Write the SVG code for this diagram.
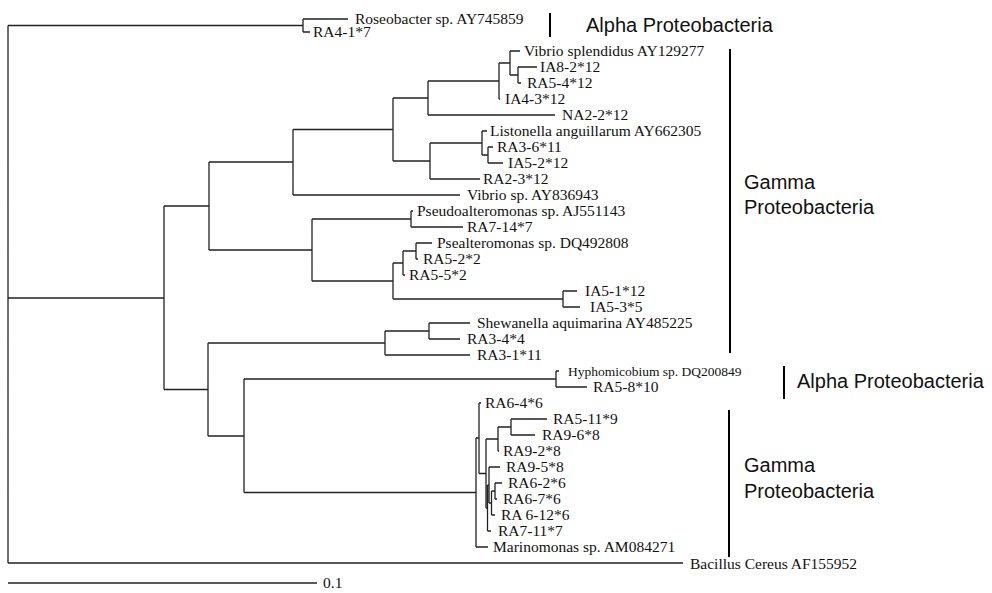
<svg xmlns="http://www.w3.org/2000/svg" width="992" height="593" viewBox="0 0 992 593">
<style>
.br{fill:none;stroke:#222;stroke-width:1.3}
.bar{stroke:#000;stroke-width:2}
.lf{font-family:"Liberation Serif","Times New Roman",serif;font-size:15.5px;fill:#111}
.sm{font-size:13.5px}
.cl{font-family:"Liberation Sans",Arial,sans-serif;font-size:20px;fill:#111}
</style>
<rect width="992" height="593" fill="#fff"/>
<g id="connectors">
<path class="br" d="M8 25.5V563M8 25.5H303M8 298H164M8 563H683
M303 19V32M303 19H348M303 32H310
M164 206V389.5M164 206H209M164 389.5H208
M209 162V250M209 162H293M209 250H312
M293 129.5V195M293 129.5H393M293 195H460
M393 98V161M393 98H428M393 161H430
M428 81V115M428 81H499M428 115H555
M499 63V99M499 63H510M499 99H500
M510 51V75M510 51H520M510 75H518
M518 67V83M518 67H537M518 83H521
M430 143V179M430 143H482M430 179H480
M482 131V155M482 131H487M482 155H488
M488 147V163M488 147H493M488 163H503
M312 219V281M312 219H411M312 281H393
M411 211V227M411 211H413M411 227H463
M393 263V299M393 263H403M393 299H563
M403 251V275M403 251H416M403 275H405
M416 243V259M416 243H432M416 259H418
M563 291V307M563 291H577M563 307H580
M208 343V436M208 343H385M208 436H244
M385 331V355M385 331H429M385 355H470
M429 323V339M429 323H470M429 339H460
M244 379V492.5M244 379H556M244 492.5H476
M556 371V387M556 371H559M556 387H587
M476 438V547M476 438H479M476 547H488
M479 403V473.5M479 403H481M479 473.5H486
M486 439V508M486 439H498M486 508H487.5
M498 427V451M498 427H511M498 451H499
M511 419V435M511 419H547M511 435H535
M487.5 485V531M487.5 485H489M487.5 531H491
M489 467V503M489 467H500M489 503H491.5
M491.5 491V515M491.5 491H495M491.5 515H495
M495 483V499M495 483H502M495 499H497"/>
<path class="br" d="M8 583H317"/>
</g>
<g id="leaves" class="lf">
<g id="n-roseobacter"><text x="355" y="24">Roseobacter sp. AY745859</text></g>
<g id="n-ra4-1"><text x="313" y="37">RA4-1*7</text></g>
<g id="n-vsplendidus"><text x="524" y="56">Vibrio splendidus AY129277</text></g>
<g id="n-ia8-2"><text x="540" y="72">IA8-2*12</text></g>
<g id="n-ra5-4"><text x="527" y="88">RA5-4*12</text></g>
<g id="n-ia4-3"><text x="505" y="104">IA4-3*12</text></g>
<g id="n-na2-2"><text x="562" y="120">NA2-2*12</text></g>
<g id="n-listonella"><text x="490" y="136">Listonella anguillarum AY662305</text></g>
<g id="n-ra3-6"><text x="497" y="152">RA3-6*11</text></g>
<g id="n-ia5-2"><text x="508" y="168">IA5-2*12</text></g>
<g id="n-ra2-3"><text x="483" y="184">RA2-3*12</text></g>
<g id="n-vibriosp"><text x="467" y="200">Vibrio sp. AY836943</text></g>
<g id="n-pseudoalt"><text x="417" y="216">Pseudoalteromonas sp. AJ551143</text></g>
<g id="n-ra7-14"><text x="467" y="232">RA7-14*7</text></g>
<g id="n-psealt"><text x="437" y="248">Psealteromonas sp. DQ492808</text></g>
<g id="n-ra5-2"><text x="423" y="264">RA5-2*2</text></g>
<g id="n-ra5-5"><text x="409" y="280">RA5-5*2</text></g>
<g id="n-ia5-1"><text x="585" y="296">IA5-1*12</text></g>
<g id="n-ia5-3"><text x="590" y="312">IA5-3*5</text></g>
<g id="n-shewanella"><text x="477" y="328">Shewanella aquimarina AY485225</text></g>
<g id="n-ra3-4"><text x="467" y="344">RA3-4*4</text></g>
<g id="n-ra3-1"><text x="477" y="360">RA3-1*11</text></g>
<g id="n-hyphomicobium"><text class="sm" x="568" y="376">Hyphomicobium sp. DQ200849</text></g>
<g id="n-ra5-8"><text x="593" y="392">RA5-8*10</text></g>
<g id="n-ra6-4"><text x="485" y="408">RA6-4*6</text></g>
<g id="n-ra5-11"><text x="553" y="424">RA5-11*9</text></g>
<g id="n-ra9-6"><text x="542" y="440">RA9-6*8</text></g>
<g id="n-ra9-2"><text x="503" y="456">RA9-2*8</text></g>
<g id="n-ra9-5"><text x="506" y="472">RA9-5*8</text></g>
<g id="n-ra6-2"><text x="508" y="488">RA6-2*6</text></g>
<g id="n-ra6-7"><text x="503" y="504">RA6-7*6</text></g>
<g id="n-ra6-12"><text x="501" y="520">RA 6-12*6</text></g>
<g id="n-ra7-11"><text x="498" y="536">RA7-11*7</text></g>
<g id="n-marinomonas"><text x="493" y="552">Marinomonas sp. AM084271</text></g>
<g id="n-bacillus"><text x="690" y="569">Bacillus Cereus AF155952</text></g>
<g id="n-scale"><text x="323" y="588">0.1</text></g>
</g>
<g id="clades">
<g id="c-alpha1"><line class="bar" x1="550" y1="13" x2="550" y2="37"/><text class="cl" x="586" y="32">Alpha Proteobacteria</text></g>
<g id="c-gamma1"><line class="bar" x1="730" y1="49" x2="730" y2="353"/><text class="cl" x="744" y="189">Gamma</text><text class="cl" x="744" y="214">Proteobacteria</text></g>
<g id="c-alpha2"><line class="bar" x1="784" y1="366" x2="784" y2="399"/><text class="cl" x="797" y="388">Alpha Proteobacteria</text></g>
<g id="c-gamma2"><line class="bar" x1="729" y1="410" x2="729" y2="557"/><text class="cl" x="744" y="472">Gamma</text><text class="cl" x="744" y="498">Proteobacteria</text></g>
</g>
</svg>
